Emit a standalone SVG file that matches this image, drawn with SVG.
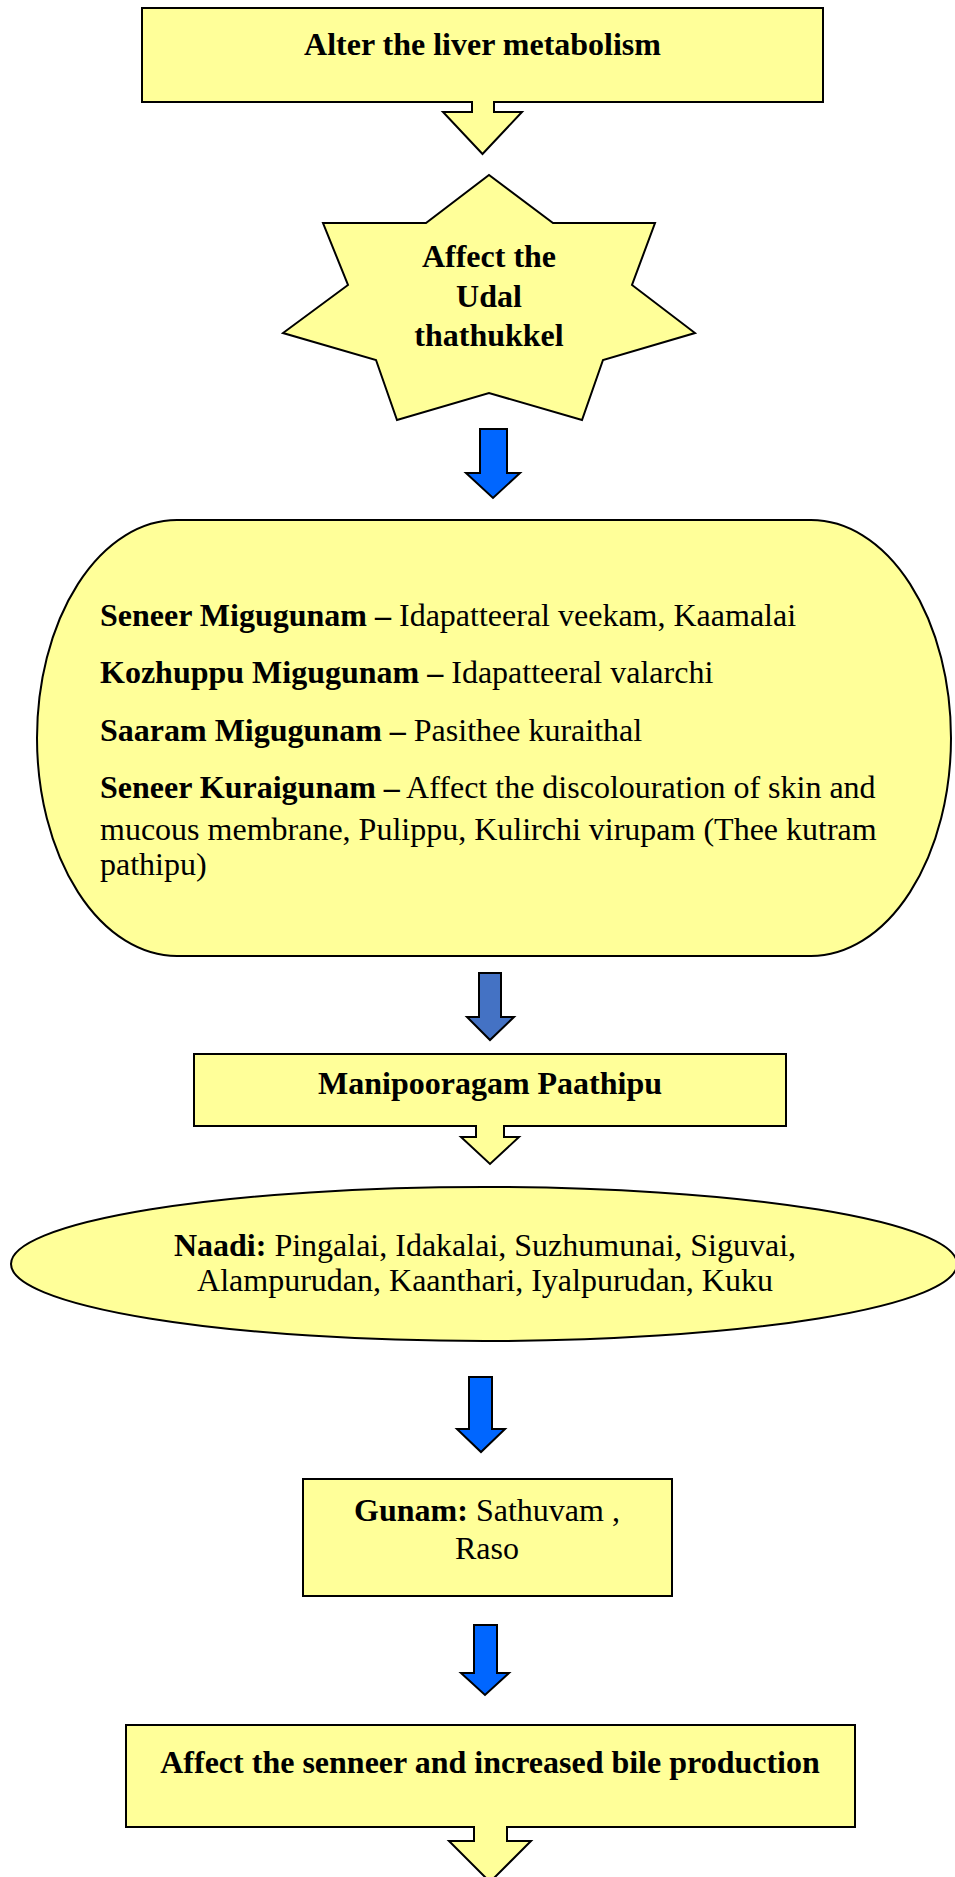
<svg xmlns="http://www.w3.org/2000/svg" width="955" height="1877" viewBox="0 0 955 1877">
<style>
.shape{fill:#FFFF99;stroke:#000;stroke-width:2;stroke-linejoin:miter}
.blue{fill:#0066FF;stroke:#000;stroke-width:2}
.blue2{fill:#4472C4;stroke:#000;stroke-width:2}
text{font-family:"Liberation Serif","Times New Roman",serif;font-size:32px;fill:#000}
.b{font-weight:bold}
.c{text-anchor:middle}
</style>
<rect x="0" y="0" width="955" height="1877" fill="#fff"/>
<g id="connectors">
<polygon class="blue" points="480,429 507,429 507,473 520,473 493,498 466,473 480,473"/>
<polygon class="blue2" points="479,973 501,973 501,1017 514,1017 490,1040 467,1017 479,1017"/>
<polygon class="blue" points="469,1377 492,1377 492,1429 505,1429 481,1452 457,1429 469,1429"/>
<polygon class="blue" points="474,1625 497,1625 497,1673 509,1673 485,1695 461,1673 474,1673"/>
</g>
<g id="node-liver">
<path class="shape" d="M142,8 H823 V102 H494 V112 H522 L482.5,154 L443,112 H472 V102 H142 Z"/>
<text class="b c" x="482.5" y="55">Alter the liver metabolism</text>
</g>
<g id="node-udal">
<polygon class="shape" points="323,223 426,223 489,175 553,223 655,223 632,285 695,333 603,360 582,420 489,393 397,420 376,360 283,333 348,285"/>
<text class="b c" x="489" y="267">Affect the</text>
<text class="b c" x="489" y="307">Udal</text>
<text class="b c" x="489" y="346">thathukkel</text>
</g>
<g id="node-gunam-details">
<rect class="shape" x="37" y="520" width="914" height="436" rx="140" ry="218"/>
<text x="100" y="626"><tspan class="b">Seneer Migugunam –</tspan> Idapatteeral veekam, Kaamalai</text>
<text x="100" y="683"><tspan class="b">Kozhuppu Migugunam –</tspan> Idapatteeral valarchi</text>
<text x="100" y="741"><tspan class="b">Saaram Migugunam –</tspan> Pasithee kuraithal</text>
<text x="100" y="798"><tspan class="b">Seneer Kuraigunam –</tspan> Affect the discolouration of skin and</text>
<text x="100" y="840">mucous membrane, Pulippu, Kulirchi virupam (Thee kutram</text>
<text x="100" y="875">pathipu)</text>
</g>
<g id="node-manipooragam">
<path class="shape" d="M194,1054 H786 V1126 H504 V1137 H519 L490,1164 L461,1137 H476 V1126 H194 Z"/>
<text class="b c" x="490" y="1094">Manipooragam Paathipu</text>
</g>
<g id="node-naadi">
<ellipse class="shape" cx="484" cy="1264" rx="473" ry="77"/>
<text class="c" x="485" y="1256"><tspan class="b">Naadi:</tspan> Pingalai, Idakalai, Suzhumunai, Siguvai,</text>
<text class="c" x="485" y="1291">Alampurudan, Kaanthari, Iyalpurudan, Kuku</text>
</g>
<g id="node-gunam">
<rect class="shape" x="303" y="1479" width="369" height="117"/>
<text class="c" x="487" y="1521"><tspan class="b">Gunam:</tspan> Sathuvam ,</text>
<text class="c" x="487" y="1559">Raso</text>
</g>
<g id="node-senneer">
<path class="shape" d="M126,1725 H855 V1827 H507 V1841 H531 L490,1882 L449,1841 H474 V1827 H126 Z"/>
<text class="b c" x="490" y="1773">Affect the senneer and increased bile production</text>
</g>
</svg>
